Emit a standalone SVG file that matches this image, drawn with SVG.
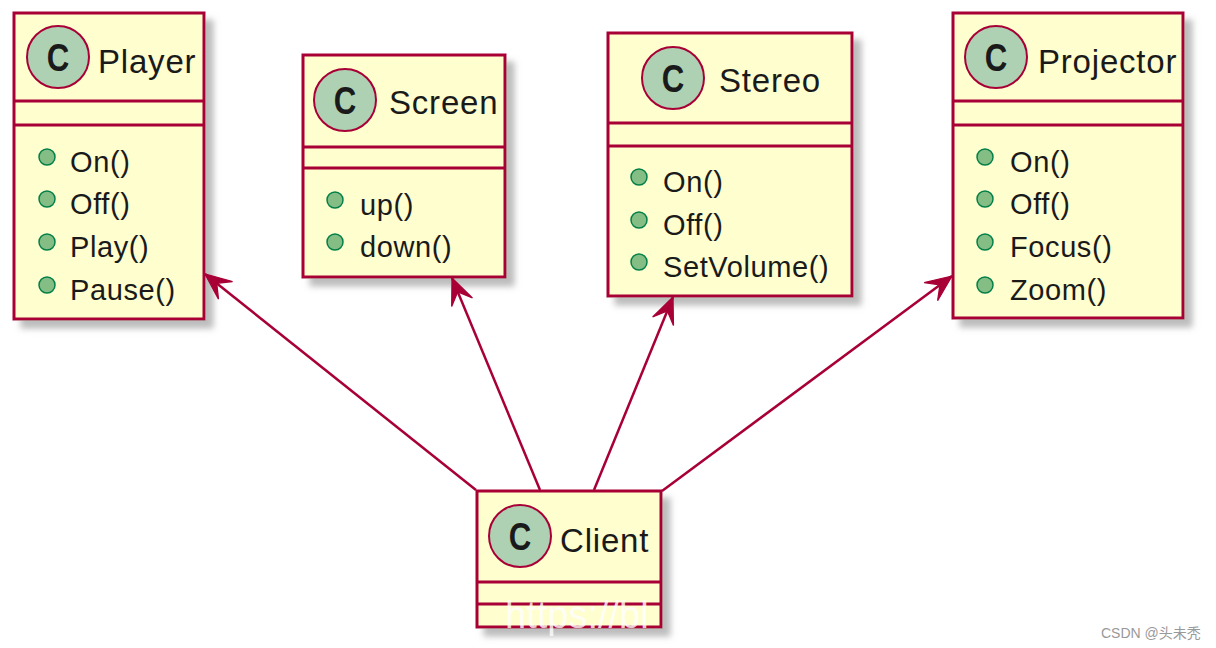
<svg xmlns="http://www.w3.org/2000/svg" width="1216" height="648" viewBox="0 0 1216 648">
<style>
.box{fill:#FEFECE;stroke:#A80036;stroke-width:3;filter:url(#sh)}
.sep{stroke:#A80036;stroke-width:3}
.ic{fill:#ADD1B2;stroke:#A80036;stroke-width:2}
.ct{font-family:"Liberation Sans",Arial,sans-serif;font-weight:bold;font-size:39px;fill:#1a1a1a;text-anchor:middle}
.t{font-family:"Liberation Sans",Arial,sans-serif;font-size:33px;letter-spacing:0.8px;fill:#1a1a1a}
.m{font-family:"Liberation Sans",Arial,sans-serif;font-size:29px;letter-spacing:0.6px;fill:#1a1a1a}
.d{fill:#84BE84;stroke:#038048;stroke-width:1.5}
.e{stroke:#A80036;stroke-width:2.5;fill:none;marker-end:url(#ah)}
</style>
<defs>
<filter id="sh" x="-10%" y="-10%" width="130%" height="130%">
<feOffset in="SourceAlpha" dx="8" dy="8" result="o"/>
<feGaussianBlur in="o" stdDeviation="3" result="b"/>
<feColorMatrix in="b" type="matrix" values="0 0 0 0 0.35 0 0 0 0 0.35 0 0 0 0 0.35 0 0 0 0.7 0" result="c"/>
<feMerge><feMergeNode in="c"/><feMergeNode in="SourceGraphic"/></feMerge>
</filter>
<marker id="ah" markerUnits="userSpaceOnUse" markerWidth="30" markerHeight="30" viewBox="-22 -11 24 22" refX="0" refY="0" orient="auto">
<path d="M0,0 L-21,-9 L-12,0 L-21,9 Z" fill="#A80036" stroke="#A80036" stroke-width="1"/>
</marker>
</defs>
<rect width="1216" height="648" fill="#ffffff"/>

<g id="Player">
<rect class="box" x="14" y="13" width="190" height="306"/>
<line class="sep" x1="14" y1="101" x2="204" y2="101"/>
<line class="sep" x1="14" y1="125" x2="204" y2="125"/>
<circle class="ic" cx="58" cy="57" r="31"/>
<text class="ct" transform="translate(58,71) scale(0.8,1)">C</text>
<text class="t" x="98" y="73">Player</text>
<circle class="d" cx="47" cy="157" r="8"/><text class="m" x="70" y="172">On()</text>
<circle class="d" cx="47" cy="199" r="8"/><text class="m" x="70" y="214">Off()</text>
<circle class="d" cx="47" cy="242" r="8"/><text class="m" x="70" y="257">Play()</text>
<circle class="d" cx="47" cy="285" r="8"/><text class="m" x="70" y="300">Pause()</text>
</g>

<g id="Screen">
<rect class="box" x="303" y="55" width="202" height="222"/>
<line class="sep" x1="303" y1="147" x2="505" y2="147"/>
<line class="sep" x1="303" y1="168" x2="505" y2="168"/>
<circle class="ic" cx="345" cy="100" r="31"/>
<text class="ct" transform="translate(345,114) scale(0.8,1)">C</text>
<text class="t" x="389" y="114">Screen</text>
<circle class="d" cx="335" cy="200" r="8"/><text class="m" x="360" y="215">up()</text>
<circle class="d" cx="335" cy="242" r="8"/><text class="m" x="360" y="257">down()</text>
</g>

<g id="Stereo">
<rect class="box" x="608" y="33" width="244" height="263"/>
<line class="sep" x1="608" y1="123" x2="852" y2="123"/>
<line class="sep" x1="608" y1="146" x2="852" y2="146"/>
<circle class="ic" cx="673" cy="78" r="31"/>
<text class="ct" transform="translate(673,92) scale(0.8,1)">C</text>
<text class="t" x="719" y="92">Stereo</text>
<circle class="d" cx="639" cy="177" r="8"/><text class="m" x="663" y="192">On()</text>
<circle class="d" cx="639" cy="220" r="8"/><text class="m" x="663" y="235">Off()</text>
<circle class="d" cx="639" cy="262" r="8"/><text class="m" x="663" y="277">SetVolume()</text>
</g>

<g id="Projector">
<rect class="box" x="953" y="13" width="230" height="305"/>
<line class="sep" x1="953" y1="101" x2="1183" y2="101"/>
<line class="sep" x1="953" y1="125" x2="1183" y2="125"/>
<circle class="ic" cx="996" cy="57" r="31"/>
<text class="ct" transform="translate(996,71) scale(0.8,1)">C</text>
<text class="t" x="1038" y="73">Projector</text>
<circle class="d" cx="985" cy="157" r="8"/><text class="m" x="1010" y="172">On()</text>
<circle class="d" cx="985" cy="199" r="8"/><text class="m" x="1010" y="214">Off()</text>
<circle class="d" cx="985" cy="242" r="8"/><text class="m" x="1010" y="257">Focus()</text>
<circle class="d" cx="985" cy="285" r="8"/><text class="m" x="1010" y="300">Zoom()</text>
</g>

<g id="Client">
<rect class="box" x="477" y="491" width="184" height="136"/>
<line class="sep" x1="477" y1="582" x2="661" y2="582"/>
<line class="sep" x1="477" y1="604" x2="661" y2="604"/>
<circle class="ic" cx="520" cy="536" r="31"/>
<text class="ct" transform="translate(520,550) scale(0.8,1)">C</text>
<text class="t" x="560" y="552">Client</text>
</g>

<g id="connectors">
<line class="e" x1="476" y1="490" x2="205" y2="274"/>
<line class="e" x1="540" y1="490" x2="452" y2="278"/>
<line class="e" x1="594" y1="490" x2="673" y2="297"/>
<line class="e" x1="662" y1="491" x2="952" y2="276"/>
</g>

<text x="505" y="628" font-family="Liberation Sans, Arial, sans-serif" font-size="38" fill="#ffffff" fill-opacity="0.8">https://bl</text>
<text x="1101" y="638" font-family="Liberation Sans, 'Noto Sans CJK SC', sans-serif" font-size="14" fill="#999999">CSDN @头未秃</text>
</svg>
